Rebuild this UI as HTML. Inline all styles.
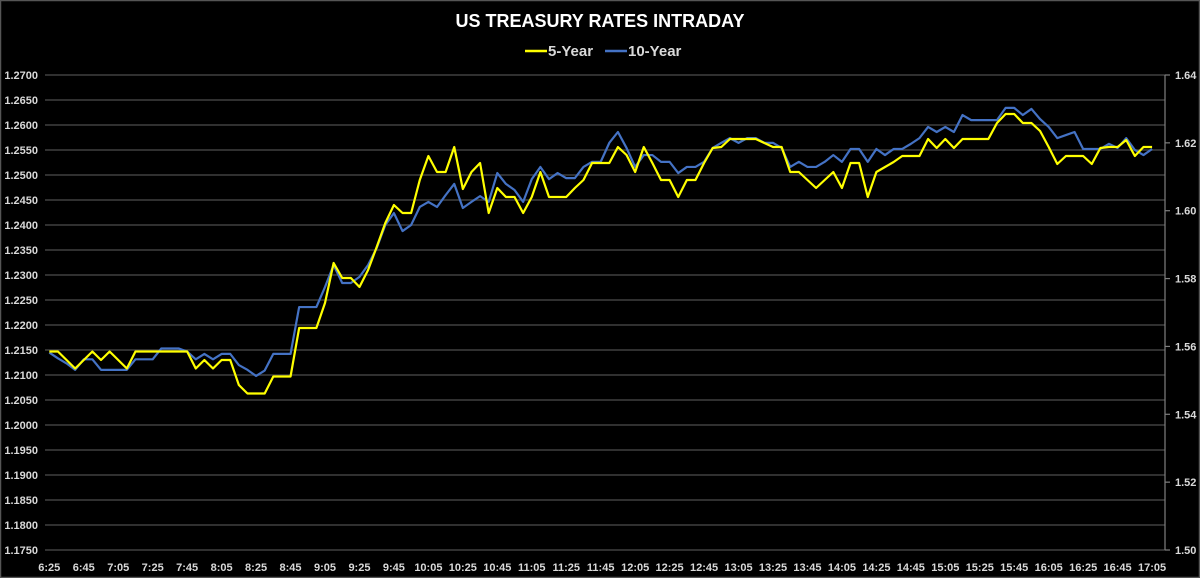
<!DOCTYPE html>
<html><head><meta charset="utf-8"><style>
html,body{margin:0;padding:0;background:#000;}
svg{display:block;}
text{font-family:"Liberation Sans Narrow","Liberation Sans",sans-serif;font-weight:bold;fill:#d9d9d9;}
</style></head><body>
<svg id="chart" width="1200" height="578" viewBox="0 0 1200 578">
<rect x="0.5" y="0.5" width="1199" height="577" fill="#000" stroke="#555" stroke-width="1.5"/>
<text x="600" y="27" text-anchor="middle" font-size="18" fill="#ffffff" style="fill:#fff">US TREASURY RATES INTRADAY</text>
<g>
<g>
<line x1="525" y1="51" x2="547" y2="51" stroke="#ffff00" stroke-width="2.5"/>
<text x="548" y="56" font-size="15">5-Year</text></g>
<g>
<line x1="605" y1="51" x2="627" y2="51" stroke="#4472c4" stroke-width="2.5"/>
<text x="628" y="56" font-size="15">10-Year</text></g>
</g>
<g id="grid"></g>
<g id="laxis"></g>
<g id="raxis"></g>
<g id="xaxis"></g>
<g id="series"></g>
</svg>
<script>
const fiveYear = [1.2147,1.2147,1.2130,1.2113,1.2130,1.2147,1.2130,1.2147,1.2130,1.2113,
1.2147,1.2147,1.2147,1.2147,1.2147,1.2147,1.2147,1.2113,1.2130,1.2113,
1.2130,1.2130,1.2080,1.2063,1.2063,1.2063,1.2097,1.2097,1.2097,1.2194,
1.2194,1.2194,1.2244,1.2324,1.2294,1.2294,1.2276,1.2310,1.2356,1.2404,
1.2440,1.2424,1.2424,1.2490,1.2538,1.2506,1.2506,1.2556,1.2472,1.2506,
1.2524,1.2424,1.2474,1.2456,1.2456,1.2424,1.2456,1.2506,1.2456,1.2456,
1.2456,1.2474,1.2490,1.2524,1.2524,1.2524,1.2556,1.2540,1.2506,1.2556,
1.2524,1.2490,1.2490,1.2456,1.2490,1.2490,1.2524,1.2554,1.2556,1.2572,
1.2572,1.2572,1.2572,1.2564,1.2556,1.2556,1.2506,1.2506,1.2490,1.2474,
1.2490,1.2506,1.2474,1.2524,1.2524,1.2456,1.2506,1.2516,1.2526,1.2538,
1.2538,1.2538,1.2572,1.2554,1.2572,1.2554,1.2572,1.2572,1.2572,1.2572,
1.2604,1.2622,1.2622,1.2604,1.2604,1.2588,1.2556,1.2522,1.2538,1.2538,
1.2538,1.2522,1.2554,1.2556,1.2556,1.2570,1.2538,1.2556,1.2556];
const tenYear = [1.5582,1.5565,1.5550,1.5531,1.5562,1.5562,1.5531,1.5531,1.5531,1.5531,
1.5562,1.5562,1.5562,1.5594,1.5594,1.5594,1.5585,1.5562,1.5578,1.5562,
1.5578,1.5578,1.5545,1.5531,1.5513,1.5529,1.5578,1.5578,1.5578,1.5716,
1.5716,1.5716,1.5775,1.5840,1.5787,1.5787,1.5805,1.5840,1.5890,1.5958,
1.5993,1.5940,1.5958,1.6011,1.6026,1.6011,1.6046,1.6079,1.6008,1.6026,
1.6043,1.6026,1.6111,1.6079,1.6061,1.6026,1.6093,1.6129,1.6093,1.6111,
1.6096,1.6096,1.6129,1.6144,1.6144,1.6200,1.6232,1.6185,1.6129,1.6164,
1.6164,1.6144,1.6144,1.6111,1.6129,1.6129,1.6144,1.6185,1.6200,1.6214,
1.6200,1.6214,1.6214,1.6200,1.6200,1.6185,1.6129,1.6144,1.6129,1.6129,
1.6144,1.6164,1.6144,1.6182,1.6182,1.6144,1.6182,1.6164,1.6182,1.6182,
1.6197,1.6214,1.6247,1.6232,1.6247,1.6232,1.6282,1.6267,1.6267,1.6267,
1.6267,1.6303,1.6303,1.6282,1.6300,1.6270,1.6247,1.6214,1.6223,1.6232,
1.6182,1.6182,1.6182,1.6197,1.6185,1.6214,1.6179,1.6164,1.6182];
const leftTicks = ["1.1750","1.1800","1.1850","1.1900","1.1950","1.2000","1.2050","1.2100","1.2150","1.2200","1.2250","1.2300","1.2350","1.2400","1.2450","1.2500","1.2550","1.2600","1.2650","1.2700"];
const rightTicks = ["1.50","1.52","1.54","1.56","1.58","1.60","1.62","1.64"];
const startMinutes = 6*60+25;
const categoryCount = 130;

const NS="http://www.w3.org/2000/svg";
const PL=45, PR=1165, PT=75, PB=550;
const L0=1.175, L1=1.27, R0=1.50, R1=1.64;
const band=(PR-PL)/categoryCount;
function xPos(i){return PL+band*(i+0.5);}
function yLeft(v){return PB-(v-L0)/(L1-L0)*(PB-PT);}
function yRight(v){return PB-(v-R0)/(R1-R0)*(PB-PT);}
function mk(tag,attrs,parent){const e=document.createElementNS(NS,tag);for(const k in attrs)e.setAttribute(k,attrs[k]);parent.appendChild(e);return e;}
const grid=document.getElementById('grid'),la=document.getElementById('laxis'),ra=document.getElementById('raxis'),xa=document.getElementById('xaxis'),sg=document.getElementById('series');
leftTicks.forEach(t=>{
  const y=yLeft(parseFloat(t));
  const g=mk('line',{x1:PL,x2:PR,y1:y,y2:y,stroke:'#404040','stroke-width':1.5},grid);
  
  
  const tx=mk('text',{x:38,y:y+4,'text-anchor':'end','font-size':11},la);
  tx.textContent=t;
  
  
});
const al=mk('line',{x1:PR,x2:PR,y1:PT,y2:PB,stroke:'#808080','stroke-width':1.2},ra);


rightTicks.forEach(t=>{
  const y=yRight(parseFloat(t));
  const tk=mk('line',{x1:PR,x2:PR+5,y1:y,y2:y,stroke:'#808080','stroke-width':1.2},ra);
  
  
  const tx=mk('text',{x:1175,y:y+4,'font-size':11},ra);
  tx.textContent=t;
  
  
});
for(let i=0;i<categoryCount;i+=4){
  const m=startMinutes+i*5;
  const lbl=Math.floor(m/60)+":"+String(m%60).padStart(2,'0');
  const tx=mk('text',{x:xPos(i),y:571,'text-anchor':'middle','font-size':11},xa);
  tx.textContent=lbl;
  
  
}
function line(data,yf,color,name){
  const d=data.map((v,i)=>(i?'L':'M')+xPos(i).toFixed(2)+','+yf(v).toFixed(2)).join(' ');
  const p=mk('path',{d:d,fill:'none',stroke:color,'stroke-width':2.2,'stroke-linejoin':'round'},sg);
  
  
}
line(tenYear,yRight,'#4472c4','line-10-year');
line(fiveYear,yLeft,'#ffff00','line-5-year');
</script>
</body></html>
